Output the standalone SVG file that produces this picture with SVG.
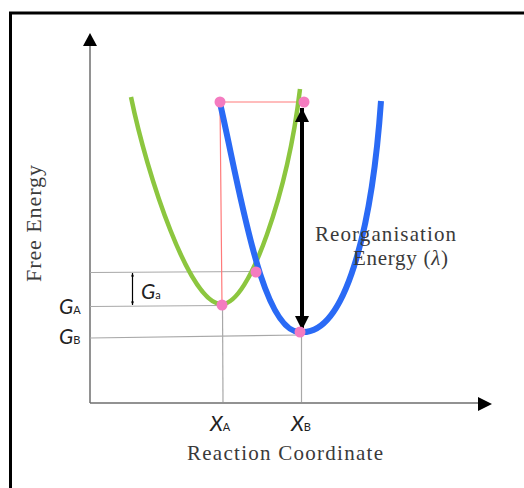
<svg xmlns="http://www.w3.org/2000/svg" width="524" height="488" viewBox="0 0 524 488">
<defs>
<style>
.frame{fill:none;stroke:#000;stroke-width:3}
.axis{fill:none;stroke:#6e6e6e;stroke-width:1.5}
.guide{fill:none;stroke:#a8a8a8;stroke-width:1.2}
.red{fill:none;stroke:#ff7a7a;stroke-width:1.2}
.green{fill:none;stroke:#8cc63f;stroke-width:4.5;stroke-linecap:butt}
.blue{fill:none;stroke:#2a6af5;stroke-width:6;stroke-linecap:butt}
.dot{fill:#f47cc0}
.serif{font-family:"Liberation Serif","DejaVu Serif",serif;fill:#3a3a3a}
.sym{font-family:"Lato","Liberation Sans",sans-serif;fill:#222}
</style>
<marker id="ah" viewBox="0 0 10 10" refX="10" refY="5" markerWidth="4.5" markerHeight="3.5" markerUnits="strokeWidth" orient="auto-start-reverse">
<path d="M0,0 L10,5 L0,10 z" fill="#000"/>
</marker>
<marker id="tick" viewBox="0 0 10 10" refX="10" refY="5" markerWidth="3" markerHeight="3" orient="auto-start-reverse">
<path d="M0,1 L10,5 L0,9 z" fill="#000"/>
</marker>
</defs>
<rect class="frame" x="10.5" y="13" width="530" height="490"/>
<g id="axes">
<line class="axis" x1="90" y1="44" x2="90" y2="403"/>
<path d="M90,33 L97,46 L83,46 z" fill="#000"/>
<line class="axis" x1="90" y1="403" x2="479" y2="403"/>
<path d="M492,404 L478,397 L478,411 z" fill="#000"/>
</g>
<g id="connectors">
<line class="guide" x1="90" y1="272.5" x2="256" y2="271.5"/>
<line class="guide" x1="90" y1="306.5" x2="222" y2="305.5"/>
<line class="guide" x1="90" y1="338" x2="300" y2="335"/>
<line class="guide" x1="222.5" y1="305" x2="223" y2="402"/>
<line class="guide" x1="301.5" y1="333" x2="301.5" y2="402"/>
<path class="red" d="M220,102 L304,102 M220,102 L222,305"/>
<line x1="132.5" y1="273" x2="132.5" y2="305" stroke="#000" stroke-width="1.2" marker-start="url(#tick)" marker-end="url(#tick)"/>
</g>
<g id="curve-A">
<path class="green" d="M131,97 C147,175 190,306 222,304 C250,304 288,190 300,89"/>
</g>
<g id="curve-B">
<path class="blue" d="M220,103 C240,190 262,335 301,332 C345,335 372,230 381,101"/>
</g>
<g id="lambda-arrow">
<line x1="302" y1="108" x2="302" y2="330" stroke="#000" stroke-width="4" marker-start="url(#ah)" marker-end="url(#ah)"/>
</g>
<g id="points">
<circle class="dot" cx="220" cy="102" r="5.5"/>
<circle class="dot" cx="304" cy="102" r="5.5"/>
<circle class="dot" cx="256" cy="272" r="5.5"/>
<circle class="dot" cx="222" cy="305" r="5.5"/>
<circle class="dot" cx="300" cy="332" r="5.5"/>
</g>
<g id="labels">
<text class="serif" font-size="22" transform="translate(41,223.5) rotate(-90)" text-anchor="middle" textLength="117" lengthAdjust="spacing">Free Energy</text>
<text class="serif" font-size="21" x="187" y="460" textLength="196" lengthAdjust="spacing">Reaction Coordinate</text>
<text class="serif" font-size="21" x="315" y="241" textLength="141" lengthAdjust="spacing">Reorganisation</text>
<text class="serif" font-size="21" x="353" y="265" textLength="95" lengthAdjust="spacing">Energy (<tspan font-style="italic">λ</tspan>)</text>
<text class="sym" x="59" y="314"><tspan font-size="21" font-style="italic">G</tspan><tspan font-size="11">A</tspan></text>
<text class="sym" x="59" y="344"><tspan font-size="21" font-style="italic">G</tspan><tspan font-size="11">B</tspan></text>
<text class="sym" x="141" y="299"><tspan font-size="21" font-style="italic">G</tspan><tspan font-size="11">a</tspan></text>
<text class="sym" x="210" y="431"><tspan font-size="21" font-style="italic">X</tspan><tspan font-size="11">A</tspan></text>
<text class="sym" x="291" y="431"><tspan font-size="21" font-style="italic">X</tspan><tspan font-size="11">B</tspan></text>
</g>
</svg>
